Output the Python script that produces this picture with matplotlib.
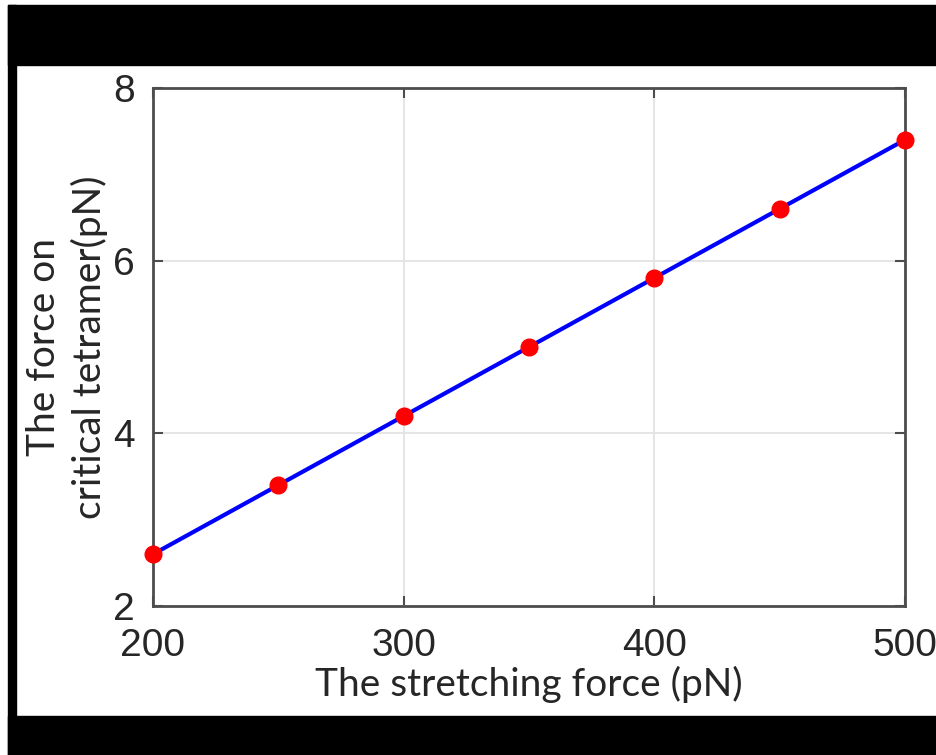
import matplotlib
matplotlib.use("Agg")
import matplotlib.pyplot as plt
from matplotlib.patches import Rectangle

stretch_force = [200, 250, 300, 350, 400, 450, 500]
tetramer_force = [2.6, 3.4, 4.2, 5.0, 5.8, 6.6, 7.4]
x_ticks = [200, 300, 400, 500]
y_ticks = [2, 4, 6, 8]

W, H = 937, 755
fig = plt.figure(figsize=(W / 100, H / 100), dpi=100)
fig.patch.set_facecolor("white")

# black frame bands around the picture
def px_rect(x0, y0, x1, y1):
    fig.patches.append(Rectangle((x0 / W, 1 - y1 / H), (x1 - x0) / W, (y1 - y0) / H,
                                 transform=fig.transFigure, color="black", zorder=0))

px_rect(8, 5, W, 65)
px_rect(8, 5, 16, H)
px_rect(8, 716, W, H)

ax = fig.add_axes([153 / W, 1 - 606 / H, 752 / W, 518 / H])
ax.set_zorder(2)
ax.plot(stretch_force, tetramer_force, color="#0000ff", lw=3, zorder=3)
ax.plot(stretch_force, tetramer_force, "o", color="#ff0000", ms=12, zorder=4, clip_on=False)

ax.set_xlim(200, 500)
ax.set_ylim(2, 8)
ax.set_xticks(x_ticks)
ax.set_yticks(y_ticks)
ax.grid(True, color="#e3e3e3", lw=1.3)
ax.set_axisbelow(True)

for s in ax.spines.values():
    s.set_color("#4d4d4d")
    s.set_linewidth(2)

ax.tick_params(direction="in", length=7, width=1.5, color="#4d4d4d",
               top=True, right=True, labelsize=28, labelcolor="#262626")
ax.tick_params(axis="x", pad=16)
ax.tick_params(axis="y", pad=13)
for lab in ax.get_xticklabels() + ax.get_yticklabels():
    lab.set_family("Liberation Sans")

ax.set_xlabel("The stretching force (pN)", fontsize=28, family="Lato", color="#262626")
ax.xaxis.set_label_coords(0.5, -0.115)
ax.set_ylabel("The force on\ncritical tetramer(pN)", fontsize=28, family="Lato",
              color="#262626", linespacing=1.3)
ax.yaxis.set_label_coords(-0.06, 0.5)

fig.savefig("out.png", dpi=100)
